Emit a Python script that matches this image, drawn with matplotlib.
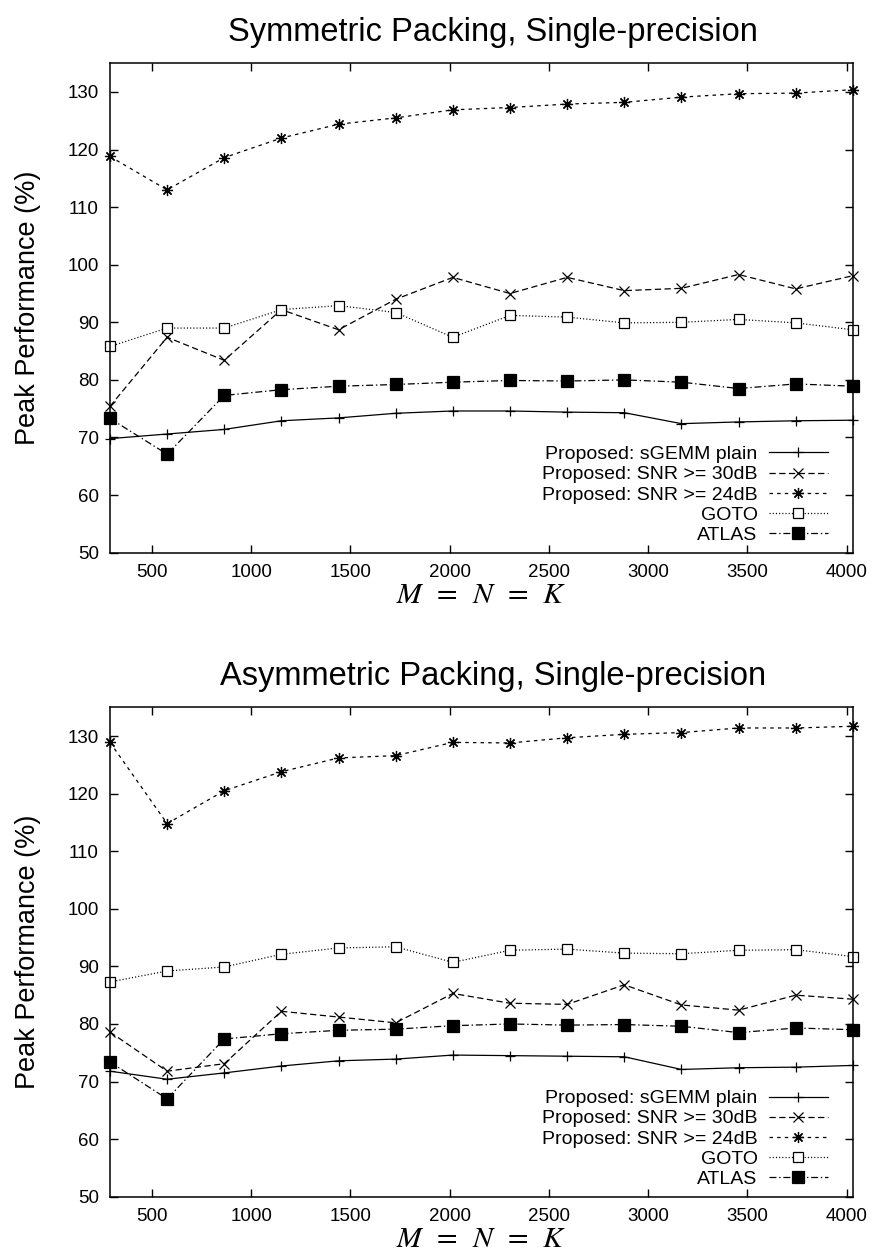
"""Peak performance of the packing variants vs matrix size, two stacked panels."""
import matplotlib
matplotlib.use("Agg")
import matplotlib.pyplot as plt

plt.rcParams["font.family"] = ["Liberation Sans", "DejaVu Sans"]
plt.rcParams["mathtext.fontset"] = "stix"
plt.rcParams["lines.scale_dashes"] = False

# matrix sizes M = N = K
sizes = [288, 576, 864, 1152, 1440, 1728, 2016, 2304, 2592, 2880, 3168, 3456, 3744, 4032]

labels = ["Proposed: sGEMM plain", "Proposed: SNR >= 30dB",
          "Proposed: SNR >= 24dB", "GOTO", "ATLAS"]

# symmetric packing
sym_plain = [69.8, 70.6, 71.4, 72.9, 73.4, 74.2, 74.6, 74.6, 74.4, 74.3, 72.4, 72.7, 72.9, 73.0]
sym_30db = [75.4, 87.4, 83.4, 92.2, 88.7, 94.0, 97.8, 95.0, 97.8, 95.5, 95.9, 98.3, 95.8, 98.1]
sym_24db = [118.8, 113.0, 118.6, 122.0, 124.4, 125.5, 126.9, 127.3, 127.9, 128.2, 129.1, 129.7, 129.8, 130.4]
sym_goto = [85.8, 89.0, 89.0, 92.2, 92.9, 91.7, 87.4, 91.2, 90.9, 89.9, 90.0, 90.5, 89.9, 88.7]
sym_atlas = [73.3, 67.1, 77.3, 78.3, 78.9, 79.2, 79.6, 79.9, 79.8, 80.0, 79.6, 78.5, 79.3, 78.9]

# asymmetric packing
asym_plain = [71.8, 70.4, 71.5, 72.7, 73.6, 73.9, 74.6, 74.5, 74.4, 74.3, 72.1, 72.4, 72.5, 72.8]
asym_30db = [78.6, 71.8, 73.1, 82.2, 81.2, 80.2, 85.3, 83.6, 83.4, 86.8, 83.3, 82.4, 85.0, 84.3]
asym_24db = [128.9, 114.8, 120.5, 123.8, 126.2, 126.6, 128.9, 128.8, 129.7, 130.3, 130.6, 131.4, 131.4, 131.7]
asym_goto = [87.3, 89.2, 89.9, 92.1, 93.2, 93.4, 90.7, 92.8, 93.0, 92.3, 92.2, 92.8, 92.9, 91.7]
asym_atlas = [73.4, 67.0, 77.4, 78.3, 78.9, 79.1, 79.7, 80.0, 79.8, 79.9, 79.6, 78.5, 79.3, 79.0]

styles = [
    dict(linestyle="-", marker="+", markersize=7, markerfacecolor="none"),
    dict(linestyle=(0, (4.5, 2.5)), marker="x", markersize=7.5, markerfacecolor="none"),
    dict(linestyle=(0, (2.5, 3)), marker=(8, 2, 0), markersize=8, markerfacecolor="none"),
    dict(linestyle=(0, (0.8, 1.5)), marker="s", markersize=7, markerfacecolor="white"),
    dict(linestyle=(0, (5, 2, 1, 2)), marker="s", markersize=8.5, markerfacecolor="black"),
]


def draw_panel(ax, title, series):
    for values, label, st in zip(series, labels, styles):
        ax.plot(sizes, values, color="black", linewidth=0.9, markeredgewidth=0.9,
                markeredgecolor="black", label=label, clip_on=False, **st)
    ax.set_xlim(288, 4032)
    ax.set_ylim(50, 135)
    ax.set_xticks([500, 1000, 1500, 2000, 2500, 3000, 3500, 4000])
    ax.set_yticks([50, 60, 70, 80, 90, 100, 110, 120, 130])
    ax.tick_params(direction="in", top=True, right=True, length=6, width=1,
                   labelsize=13.5, pad=8)
    for sp in ax.spines.values():
        sp.set_linewidth(1.1)
    ax.set_title(title, fontsize=23.5, pad=16, x=0.515)
    ax.set_ylabel("Peak Performance (%)", fontsize=19.5)
    ax.yaxis.set_label_coords(-0.093, 0.5)
    ax.set_xlabel(r"$M\ \,=\ \,N\ \,=\ \,K$", fontsize=21.5, labelpad=0)
    ax.legend(loc="lower right", bbox_to_anchor=(0.966, 0.018), frameon=False,
              markerfirst=False, fontsize=14, handlelength=3.0, handletextpad=0.6,
              labelspacing=0.13, borderaxespad=0, borderpad=0, numpoints=1)


fig = plt.figure(figsize=(8.72, 12.56), dpi=100)
ax1 = fig.add_axes([0.1261, 0.5600, 0.852, 0.3897])
ax2 = fig.add_axes([0.1261, 0.0472, 0.852, 0.3897])

draw_panel(ax1, "Symmetric Packing, Single-precision",
           [sym_plain, sym_30db, sym_24db, sym_goto, sym_atlas])
draw_panel(ax2, "Asymmetric Packing, Single-precision",
           [asym_plain, asym_30db, asym_24db, asym_goto, asym_atlas])

fig.savefig("out.png", dpi=100)
